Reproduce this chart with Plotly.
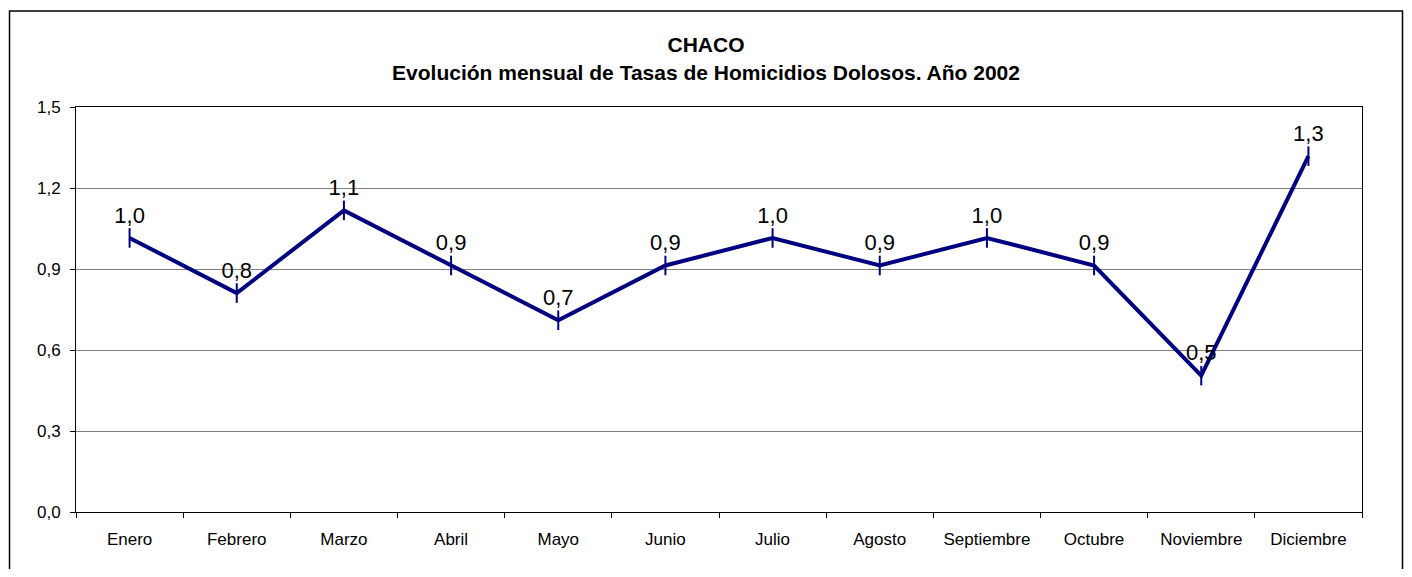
import plotly.graph_objects as go

meses = ["Enero", "Febrero", "Marzo", "Abril", "Mayo", "Junio", "Julio",
         "Agosto", "Septiembre", "Octubre", "Noviembre", "Diciembre"]
tasas = [1.015, 0.811, 1.117, 0.913, 0.710, 0.913, 1.015, 0.913, 1.015,
         0.913, 0.505, 1.318]
y_ticks = [0.0, 0.3, 0.6, 0.9, 1.2, 1.5]

fig = go.Figure()

# Línea de tasas mensuales
fig.add_trace(go.Scatter(
    x=meses,
    y=tasas,
    mode="lines+markers+text",
    line={'color': '#000080', 'width': 4},
    marker={'symbol': 'line-ns', 'size': 14,
            'line': {'width': 2, 'color': '#000080'}},
    texttemplate="%{y:.1f}",
    textposition="top center",
    textfont={'size': 22, 'color': 'black'},
    cliponaxis=False,
    showlegend=False
))

fig.update_xaxes(
    range=[-0.5, len(meses) - 0.5],
    tickson="boundaries",
    ticks="outside",
    ticklen=5,
    tickcolor="black",
    ticklabelstandoff=12,
    showline=True,
    linecolor="black",
    linewidth=1,
    mirror=True,
    showgrid=False,
    tickfont={'size': 17, 'color': 'black'}
)

fig.update_yaxes(
    range=[0, 1.5],
    tickvals=y_ticks,
    tickformat=".1f",
    ticks="outside",
    ticklen=5,
    tickcolor="black",
    ticklabelstandoff=6,
    showline=True,
    linecolor="black",
    linewidth=1,
    mirror=True,
    showgrid=True,
    gridcolor="#808080",
    gridwidth=1,
    zeroline=False,
    tickfont={'size': 17, 'color': 'black'}
)

# Marco exterior del gráfico
fig.add_shape(type="rect", xref="paper", yref="paper",
              x0=-0.0517, x1=1.0315, y0=-0.2, y1=1.237,
              line={'color': 'black', 'width': 1.5})

fig.update_layout(
    title={'text': "<b>CHACO<br>Evolución mensual de Tasas de Homicidios Dolosos. Año 2002</b>",
           'x': 0.5, 'xref': 'container', 'xanchor': 'center',
           'y': 0.921, 'yref': 'container', 'yanchor': 'middle',
           'font': {'size': 21, 'color': 'black'}},
    font={'family': "Liberation Sans, Arial, sans-serif"},
    separators=",.",
    width=1396,
    height=561,
    margin={'l': 68, 'r': 42, 't': 99, 'b': 57},
    plot_bgcolor="white",
    paper_bgcolor="white"
)

fig.write_html("out.html")
